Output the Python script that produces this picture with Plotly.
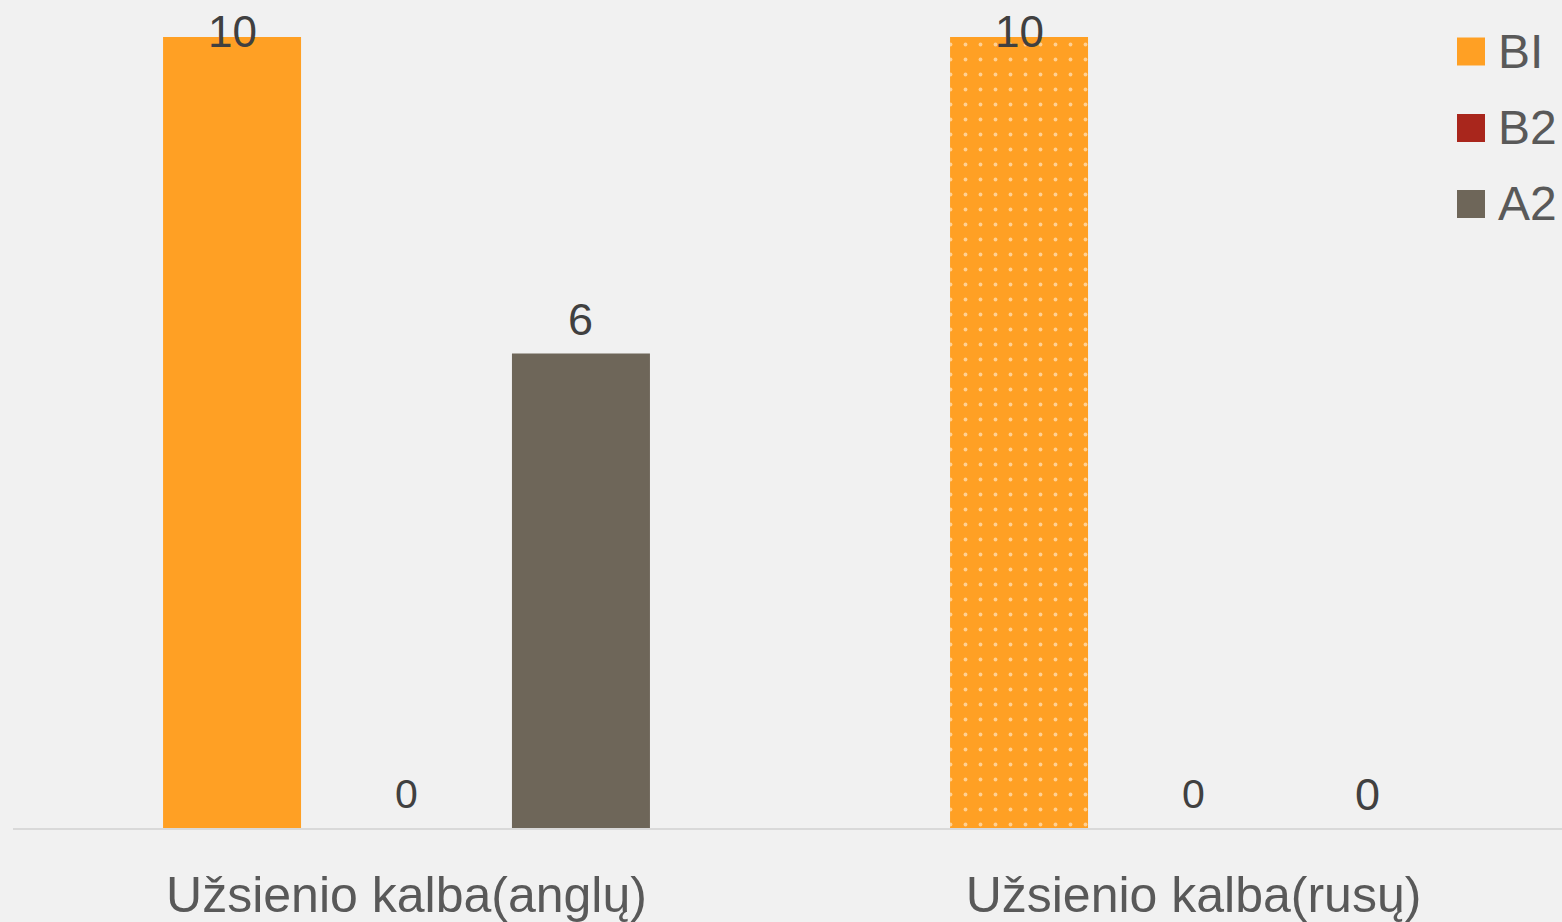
import plotly.graph_objects as go

categories = ["Užsienio kalba(anglų)", "Užsienio kalba(rusų)"]
series_names = ["BI", "B2", "A2"]
b1_values = [10, 10]
b2_values = [0, 0]
a2_values = [6, 0]
colors = ["#FFA024", "#A9261C", "#6E6659"]

W, H = 1562, 922
ML, MR, MT, MB = 13, 0, 37, 94
PW = W - ML - MR
PH = H - MT - MB
BG = "#f1f1f1"

def px_x(p):
    return (p - ML) / PW

def px_y(p):
    return (H - MB - p) / PH

fig = go.Figure()
series = [b1_values, b2_values, a2_values]
patterns = [["", "."], ["", ""], ["", ""]]
for name, vals, col, pat in zip(series_names, series, colors, patterns):
    fig.add_trace(go.Bar(
        x=categories, y=vals, name=name,
        marker=dict(color=col, line=dict(width=0),
                    pattern=dict(shape=pat, fgcolor="#ffffff", bgcolor=col,
                                 size=15, solidity=0.05, fillmode="overlay")),
        showlegend=False, cliponaxis=False,
    ))

# data labels
label_sizes = {("BI", 0): 44, ("BI", 1): 44, ("B2", 0): 41, ("B2", 1): 41, ("A2", 0): 45, ("A2", 1): 45}
ymax = 10
annotations = []
n = len(series_names)
slot = (1 - 0.335) / n
for si, (name, vals) in enumerate(zip(series_names, series)):
    for ci, v in enumerate(vals):
        xoff = (si - (n - 1) / 2) * slot
        shift = 6 if v >= ymax else 34
        annotations.append(dict(
            x=ci + xoff, y=v, xref="x", yref="y", text=str(v), showarrow=False,
            yanchor="middle", yshift=shift,
            font=dict(family="Liberation Sans, Arial", size=label_sizes[(name, ci)], color="#404040"),
        ))

# legend (manual)
legend_centers = [51.5, 128, 204]
shapes = []
for name, col, cy in zip(series_names, colors, legend_centers):
    shapes.append(dict(type="rect", xref="paper", yref="paper",
                       x0=px_x(1457), x1=px_x(1485), y0=px_y(cy + 14), y1=px_y(cy - 14),
                       fillcolor=col, line=dict(width=0)))
    annotations.append(dict(x=px_x(1496), y=px_y(cy), xref="paper", yref="paper",
                            text=name, showarrow=False, xanchor="left", yanchor="middle",
                            font=dict(family="Liberation Sans, Arial", size=48, color="#595959")))

fig.update_layout(
    width=W, height=H,
    margin=dict(l=ML, r=MR, t=MT, b=MB, pad=0, autoexpand=False),
    paper_bgcolor=BG, plot_bgcolor=BG,
    barmode="group", bargap=0.335, bargroupgap=0.209,
    annotations=annotations, shapes=shapes,
    xaxis=dict(type="category", range=[-0.5, -0.5 + PW / 787], showgrid=False,
               showline=True, linecolor="#d9d9d9", linewidth=2, automargin=False,
               ticks="outside", ticklen=22, tickcolor="rgba(0,0,0,0)",
               tickfont=dict(family="Liberation Sans, Arial", size=50, color="#595959")),
    yaxis=dict(range=[0, 10], visible=False, showgrid=False, zeroline=False),
    font=dict(family="Liberation Sans, Arial"),
)

fig.write_html(
    "out.html",
    config={"displayModeBar": False},
    post_script="document.body.style.margin='0';document.body.style.background='%s';document.body.style.overflow='hidden';" % BG,
)
